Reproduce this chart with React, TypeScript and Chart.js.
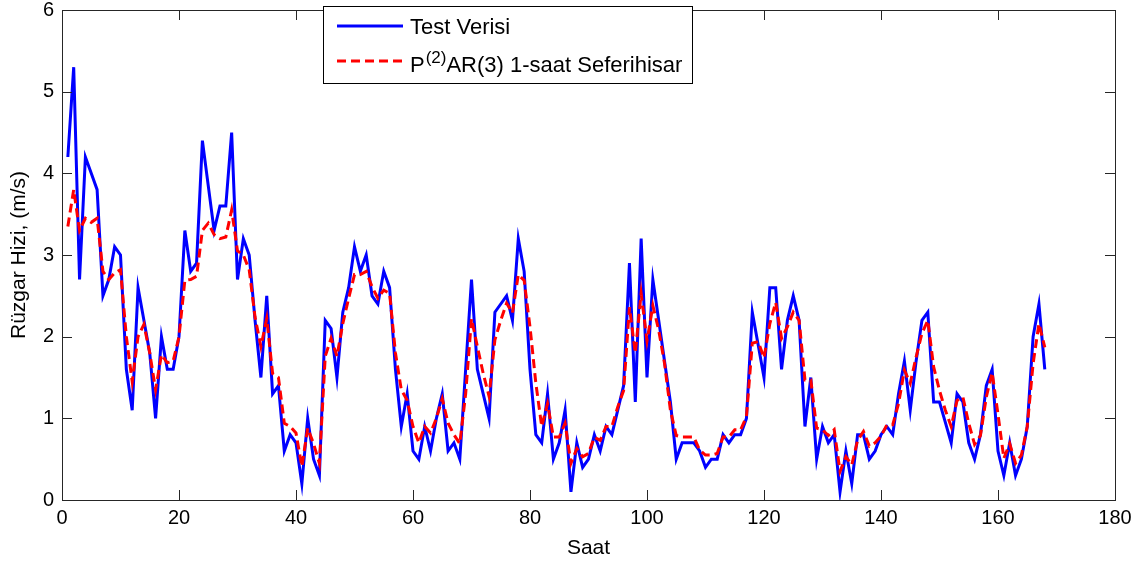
import React, { useEffect, useRef } from "react";
import { Chart, registerables } from "chart.js";

Chart.register(...registerables);

// ---- data (hourly values, hour 1 .. 168) ----
const FIRST_HOUR = 1;

const testVerisi: number[] = [
  4.2, 5.3, 2.7, 4.2, 4.0, 3.8, 2.5, 2.7, 3.1, 3.0,
  1.6, 1.1, 2.6, 2.2, 1.8, 1.0, 2.0, 1.6, 1.6, 2.0,
  3.3, 2.8, 2.9, 4.4, 3.85, 3.3, 3.6, 3.6, 4.5, 2.7,
  3.2, 3.0, 2.2, 1.5, 2.5, 1.3, 1.4, 0.6, 0.8, 0.7,
  0.2, 1.0, 0.5, 0.3, 2.2, 2.1, 1.5, 2.3, 2.6, 3.1,
  2.8, 3.0, 2.5, 2.4, 2.8, 2.6, 1.6, 0.9, 1.3, 0.6,
  0.5, 0.9, 0.6, 1.0, 1.3, 0.6, 0.7, 0.5, 1.6, 2.7,
  1.6, 1.3, 1.0, 2.3, 2.4, 2.5, 2.2, 3.2, 2.8, 1.6,
  0.8, 0.7, 1.3, 0.5, 0.7, 1.1, 0.1, 0.7, 0.4, 0.5,
  0.8, 0.6, 0.9, 0.8, 1.1, 1.4, 2.9, 1.2, 3.2, 1.5,
  2.7, 2.2, 1.7, 1.2, 0.5, 0.7, 0.7, 0.7, 0.6, 0.4,
  0.5, 0.5, 0.8, 0.7, 0.8, 0.8, 1.0, 2.3, 1.9, 1.5,
  2.6, 2.6, 1.6, 2.2, 2.5, 2.2, 0.9, 1.5, 0.5, 0.9,
  0.7, 0.8, 0.1, 0.6, 0.2, 0.8, 0.8, 0.5, 0.6, 0.8,
  0.9, 0.8, 1.3, 1.7, 1.1, 1.7, 2.2, 2.3, 1.2, 1.2,
  0.95, 0.7, 1.3, 1.2, 0.7, 0.5, 0.8, 1.4, 1.6, 0.6,
  0.3, 0.7, 0.3, 0.5, 0.9, 2.0, 2.4, 1.6,
];

const tahmin: number[] = [
  3.35, 3.8, 3.3, 3.45, 3.4, 3.45, 2.8, 2.7, 2.78, 2.82,
  2.0, 1.45, 2.0, 2.15, 1.8, 1.35, 1.78, 1.68, 1.7, 2.0,
  2.69, 2.7, 2.74, 3.3, 3.39, 3.25, 3.2, 3.22, 3.55, 3.05,
  3.0, 2.82, 2.24, 1.88, 2.22, 1.55, 1.5, 0.94, 0.9, 0.82,
  0.41, 0.88, 0.69, 0.45, 1.76, 1.98, 1.76, 2.16, 2.47, 2.76,
  2.76, 2.8, 2.61, 2.47, 2.57, 2.53, 1.8, 1.35, 1.22, 0.9,
  0.7, 0.9, 0.82, 1.0, 1.24, 0.94, 0.8, 0.69, 1.3, 2.22,
  1.88, 1.55, 1.27, 1.96, 2.2, 2.41, 2.29, 2.76, 2.69, 2.12,
  1.43, 0.9, 1.18, 0.77, 0.77, 0.94, 0.45, 0.63, 0.53, 0.57,
  0.77, 0.73, 0.9, 0.9, 1.14, 1.34, 2.36, 1.8, 2.53, 1.95,
  2.38, 2.08, 1.67, 1.1, 0.79, 0.77, 0.77, 0.77, 0.61, 0.55,
  0.55, 0.57, 0.77, 0.77, 0.86, 0.86, 1.02, 1.92, 1.94, 1.74,
  2.16, 2.42, 1.98, 2.12, 2.3, 2.2, 1.47, 1.47, 0.88, 0.86,
  0.79, 0.86, 0.35, 0.53, 0.43, 0.73, 0.84, 0.66, 0.7, 0.78,
  0.92, 0.92, 1.18, 1.59, 1.43, 1.75, 2.04, 2.2, 1.63, 1.34,
  1.1, 0.9, 1.22, 1.26, 0.94, 0.68, 0.79, 1.26, 1.56, 1.05,
  0.51, 0.69, 0.45, 0.55, 0.9, 1.67, 2.16, 1.87,
];

const X_MIN = 0;
const X_MAX = 180;
const X_STEP = 20;
const Y_MIN = 0;
const Y_MAX = 6;
const Y_STEP = 1;

const X_TITLE = "Saat";
const Y_TITLE = "Rüzgar Hizi, (m/s)";
const LEGEND_1 = "Test Verisi";
const LEGEND_2_MAIN = "P";
const LEGEND_2_SUP = "(2)";
const LEGEND_2_REST = "AR(3) 1-saat Seferihisar";

const FONT = '"Liberation Sans", Arial, Helvetica, sans-serif';
const W = 1142;
const H = 567;
const TICK_LEN = 10;

const framePlugin = {
  id: "matlabFrame",
  afterDraw(chart: any) {
    const { ctx, chartArea: a, scales } = chart;
    ctx.save();
    ctx.strokeStyle = "#262626";
    ctx.lineWidth = 1;
    ctx.beginPath();
    scales.x.ticks.forEach((t: any) => {
      const px = Math.round(scales.x.getPixelForValue(t.value)) + 0.5;
      ctx.moveTo(px, a.bottom);
      ctx.lineTo(px, a.bottom - TICK_LEN);
      ctx.moveTo(px, a.top);
      ctx.lineTo(px, a.top + TICK_LEN);
    });
    scales.y.ticks.forEach((t: any) => {
      const py = Math.round(scales.y.getPixelForValue(t.value)) + 0.5;
      ctx.moveTo(a.left, py);
      ctx.lineTo(a.left + TICK_LEN, py);
      ctx.moveTo(a.right, py);
      ctx.lineTo(a.right - TICK_LEN, py);
    });
    ctx.stroke();
    ctx.strokeRect(
      Math.round(a.left) + 0.5,
      Math.round(a.top) + 0.5,
      Math.round(a.right - a.left),
      Math.round(a.bottom - a.top)
    );

    // legend
    const lx = 323, ly = 6, lw = 369, lh = 77;
    ctx.fillStyle = "#ffffff";
    ctx.fillRect(lx, ly, lw, lh);
    ctx.strokeStyle = "#000000";
    ctx.strokeRect(lx + 0.5, ly + 0.5, lw, lh);

    ctx.lineWidth = 3;
    ctx.strokeStyle = "#0000ff";
    ctx.setLineDash([]);
    ctx.beginPath();
    ctx.moveTo(337, 26);
    ctx.lineTo(403, 26);
    ctx.stroke();

    ctx.strokeStyle = "#ff0000";
    ctx.setLineDash([9, 5]);
    ctx.beginPath();
    ctx.moveTo(337, 61);
    ctx.lineTo(403, 61);
    ctx.stroke();
    ctx.setLineDash([]);

    ctx.fillStyle = "#000000";
    ctx.textBaseline = "alphabetic";
    ctx.textAlign = "left";
    ctx.font = `22px ${FONT}`;
    ctx.fillText(LEGEND_1, 410, 34);
    let tx = 410;
    ctx.fillText(LEGEND_2_MAIN, tx, 72);
    tx += ctx.measureText(LEGEND_2_MAIN).width;
    ctx.font = `17px ${FONT}`;
    ctx.fillText(LEGEND_2_SUP, tx + 1, 63);
    tx += ctx.measureText(LEGEND_2_SUP).width + 1;
    ctx.font = `22px ${FONT}`;
    ctx.fillText(LEGEND_2_REST, tx, 72);
    ctx.restore();
  },
};

export default function App() {
  const ref = useRef<HTMLCanvasElement | null>(null);

  useEffect(() => {
    if (!ref.current) return;
    const toPoints = (arr: number[]) =>
      arr.map((v, i) => ({ x: FIRST_HOUR + i, y: v }));

    const chart = new Chart(ref.current, {
      type: "line",
      data: {
        datasets: [
          {
            label: LEGEND_1,
            data: toPoints(testVerisi),
            borderColor: "#0000ff",
            borderWidth: 3,
            pointRadius: 0,
            tension: 0,
            fill: false,
            order: 1,
          },
          {
            label: LEGEND_2_MAIN + LEGEND_2_SUP + LEGEND_2_REST,
            data: toPoints(tahmin),
            borderColor: "#ff0000",
            borderWidth: 3,
            borderDash: [9, 5],
            pointRadius: 0,
            tension: 0,
            fill: false,
            order: 0,
          },
        ],
      },
      options: {
        animation: false,
        responsive: false,
        maintainAspectRatio: false,
        layout: { padding: { left: 0, top: 10, right: 27, bottom: 0 } },
        plugins: {
          legend: { display: false },
          tooltip: { enabled: false },
        },
        scales: {
          x: {
            type: "linear",
            min: X_MIN,
            max: X_MAX,
            grid: { display: false, drawTicks: false },
            border: { display: false },
            ticks: {
              stepSize: X_STEP,
              color: "#000000",
              font: { family: FONT, size: 20 },
              padding: 6,
              maxRotation: 0,
            },
            title: {
              display: true,
              text: X_TITLE,
              color: "#000000",
              font: { family: FONT, size: 21 },
              padding: { top: 0, bottom: 6 },
            },
            afterFit: (s: any) => {
              s.height = 67;
              s.paddingLeft = 0;
              s.paddingRight = 0;
            },
          },
          y: {
            type: "linear",
            min: Y_MIN,
            max: Y_MAX,
            grid: { display: false, drawTicks: false },
            border: { display: false },
            ticks: {
              stepSize: Y_STEP,
              color: "#000000",
              font: { family: FONT, size: 20 },
              padding: 8,
            },
            title: {
              display: true,
              text: Y_TITLE,
              color: "#000000",
              font: { family: FONT, size: 21 },
              padding: { top: 7, bottom: 0 },
            },
            afterFit: (s: any) => {
              s.width = 62;
              s.paddingTop = 0;
              s.paddingBottom = 0;
            },
          },
        },
      },
      plugins: [framePlugin],
    });
    return () => chart.destroy();
  }, []);

  return (
    <div
      style={{
        position: "absolute",
        left: 0,
        top: 0,
        width: W,
        height: H,
        background: "#ffffff",
      }}
    >
      <canvas ref={ref} width={W} height={H} style={{ display: "block" }} />
    </div>
  );
}
